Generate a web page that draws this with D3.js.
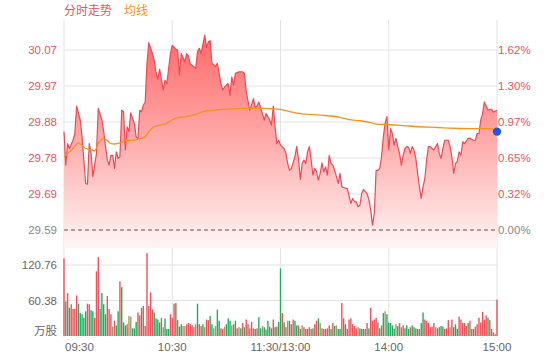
<!DOCTYPE html>
<html><head><meta charset="utf-8">
<script src="https://cdn.jsdelivr.net/npm/d3@7"></script>
<style>html,body{margin:0;padding:0;background:#fff;}svg{display:block;}</style>
</head><body><svg id="c" width="560" height="360"></svg>
<script>
const prevClose = 29.59;
const priceTickLabels = ["29.59","29.69","29.78","29.88","29.97","30.07"];
const pctTickLabels = ["0.00%","0.32%","0.65%","0.97%","1.30%","1.62%"];
const pctTickValues = [0, 0.324, 0.648, 0.972, 1.296, 1.62];
const volTickValues = [60.38, 120.76];
const volTickLabels = ["60.38", "120.76"];
const timeLabels = ["09:30","10:30","11:30/13:00","14:00","15:00"];
const timeMinutes = [0, 60, 120, 180, 240];

// price vertices [minute, price]
const priceMinutes = [0,1,2,3,5,6,7,9,10,11,12,13,14,15,16,18,19,21,22,24,25,26,27,28,29,30,31,32,33,34,35,36,37,38,39,40,41,42,43,44,45,46,47,49,50,51,52,53,55,56,57,59,60,62,63,64,65,67,68,69,70,71,73,74,75,76,78,79,80,81,82,84,85,86,87,88,89,91,92,93,94,95,97,99,100,101,103,105,106,107,108,110,111,112,113,114,115,116,117,118,119,120,122,123,124,125,126,128,129,130,131,132,133,134,135,136,137,138,139,140,141,142,143,144,145,146,147,148,149,150,151,152,153,154,156,157,159,160,161,162,163,164,165,166,168,169,170,171,172,173,174,175,176,177,178,179,180,181,182,183,184,185,186,187,188,189,190,191,192,193,194,195,196,197,198,199,200,201,202,203,204,205,207,208,209,210,211,213,214,215,216,217,218,219,220,221,222,224,225,227,228,229,230,231,232,233,235,236,237,238,240];
const priceValues = [29.852,29.763,29.820,29.807,29.829,29.847,29.920,29.883,29.838,29.776,29.714,29.712,29.820,29.794,29.732,29.794,29.914,29.883,29.852,29.776,29.763,29.789,29.789,29.754,29.798,29.781,29.785,29.909,29.905,29.803,29.865,29.852,29.902,29.887,29.874,29.838,29.834,29.909,29.905,29.923,29.931,30.034,30.089,30.060,30.042,30.011,29.991,30.018,29.963,29.989,29.980,30.060,30.082,30.071,30.069,30.003,30.060,30.038,30.060,30.053,30.032,30.029,30.020,30.065,30.074,30.060,30.109,30.076,30.091,30.094,30.034,30.025,30.034,30.007,29.980,29.963,29.971,29.980,29.949,29.998,29.976,30.007,30.011,30.011,30.007,29.958,29.909,29.940,29.916,29.920,29.931,29.900,29.883,29.900,29.892,29.883,29.869,29.920,29.865,29.820,29.829,29.816,29.807,29.794,29.767,29.749,29.754,29.785,29.813,29.776,29.725,29.767,29.776,29.767,29.798,29.812,29.776,29.736,29.754,29.745,29.723,29.741,29.769,29.745,29.758,29.736,29.789,29.767,29.763,29.749,29.732,29.714,29.741,29.705,29.701,29.701,29.661,29.674,29.665,29.665,29.652,29.656,29.687,29.698,29.687,29.670,29.643,29.603,29.634,29.749,29.749,29.754,29.785,29.838,29.874,29.892,29.803,29.860,29.847,29.816,29.834,29.812,29.794,29.763,29.789,29.807,29.812,29.810,29.794,29.812,29.803,29.781,29.741,29.705,29.674,29.705,29.727,29.776,29.812,29.812,29.807,29.803,29.820,29.794,29.781,29.807,29.829,29.829,29.812,29.785,29.741,29.767,29.772,29.798,29.789,29.825,29.820,29.834,29.834,29.829,29.829,29.847,29.847,29.883,29.900,29.931,29.909,29.911,29.911,29.904,29.909];

// average line vertices
const avgMinutes = [0,2,5,8,10,12,14,17,19,22,24,26,28,31,34,38,42,45,47,50,53,57,60,62,68,74,77,83,90,99,109,120,125,131,142,153,158,164,170,173,179,188,197,207,216,225,234,240];
const avgValues = [29.785,29.794,29.807,29.822,29.816,29.807,29.805,29.801,29.820,29.834,29.828,29.820,29.819,29.822,29.828,29.829,29.833,29.838,29.852,29.865,29.869,29.874,29.883,29.887,29.892,29.899,29.905,29.909,29.912,29.914,29.914,29.911,29.905,29.900,29.896,29.890,29.884,29.881,29.876,29.872,29.871,29.868,29.865,29.863,29.861,29.860,29.860,29.859];
const lastMarkerPrice = 29.852;

// volume per minute (万股), and bar direction r=up g=down f=flat
const volumes = [132,59,73,48,54,46,46,69,55,39,37,31,42,55,54,44,42,31,110,134,46,73,54,37,68,46,37,16,26,18,42,93,83,23,18,20,34,33,13,13,24,40,35,48,51,17,141,51,74,45,40,30,28,23,31,15,30,12,12,37,31,55,56,27,16,20,17,17,20,22,20,18,15,20,55,20,17,20,15,28,27,34,20,13,17,45,26,13,12,16,20,30,26,18,20,26,13,15,13,22,15,28,20,13,24,13,12,13,32,13,17,15,11,26,16,13,28,15,16,24,
115,39,23,15,26,26,20,28,26,18,18,12,18,15,12,12,15,12,13,20,26,30,22,13,12,12,13,18,12,22,17,18,12,12,56,30,20,12,28,30,20,17,13,15,13,12,12,12,22,13,48,26,28,31,23,13,18,39,42,37,23,22,18,12,20,17,22,15,18,13,18,12,15,18,15,13,12,12,22,40,28,26,22,15,16,22,15,13,15,17,16,12,13,27,15,28,15,20,12,33,28,22,22,17,22,26,12,12,16,20,31,23,41,28,35,31,27,12,6,3,62];
const volDirs = "rgrgrrrrgggggrrggrrrggggrrrfrggrgggrffgggrrgrrrrrrggggrfgggrrrgrggffrrrrrfgrrgfrrggffggrrfgggfrgrfgrgrrrrrgrggfgggrgrgr" +
                "ggrgrfgrrggrgfrrgrrgrrgfrrgrrgrgfggrrgrrrrrrfgggrrgrrrrgrrgfgggggfgrrrgggrggrgrggrrrrrrfgrggrrrfrgggrrrrrgrrgrrrrrrrgrrrrrrg";

const W = 560, H = 360;
const x0 = 64, x1 = 497;
const pTop = 20, pBottom = 248, zeroY = 230, topGridY = 50;
const vBottom = 336;

const svg = d3.select("#c");
const x = d3.scaleLinear().domain([0, 240]).range([x0, x1]);
const yP = d3.scaleLinear().domain([prevClose, prevClose * 1.0162]).range([zeroY, topGridY]);
const yPct = d3.scaleLinear().domain([0, 1.62]).range([zeroY, topGridY]);
const yV = d3.scaleLinear().domain([0, 120.76]).range([vBottom, 265]);

const font = "Arial, 'Liberation Sans', 'Noto Sans CJK SC', sans-serif";
const red = "#ee4a55", labelRed = "#e8545f", grey = "#888", orange = "#f5921e";

// vertical grid lines
svg.append("g").selectAll("line").data(timeMinutes).join("line")
  .attr("x1", d => x(d)).attr("x2", d => x(d))
  .attr("y1", pTop).attr("y2", vBottom + 1)
  .attr("stroke", "#e3e3e3").attr("stroke-width", 1);

// horizontal price grid
svg.append("g").selectAll("line").data(pctTickValues.slice(1)).join("line")
  .attr("x1", x0).attr("x2", x1)
  .attr("y1", d => yPct(d)).attr("y2", d => yPct(d))
  .attr("stroke", "#e3e3e3").attr("stroke-width", 1);

// volume grid
svg.append("g").selectAll("line").data(volTickValues).join("line")
  .attr("x1", x0).attr("x2", x1)
  .attr("y1", d => yV(d)).attr("y2", d => yV(d))
  .attr("stroke", "#e3e3e3").attr("stroke-width", 1);

// gradient
const defs = svg.append("defs");
const grad = defs.append("linearGradient").attr("id", "g1")
  .attr("gradientUnits", "userSpaceOnUse")
  .attr("x1", 0).attr("y1", pTop).attr("x2", 0).attr("y2", pBottom);
grad.append("stop").attr("offset", 0).attr("stop-color", "#ff6060");
grad.append("stop").attr("offset", 0.5).attr("stop-color", "#ffa6a6");
grad.append("stop").attr("offset", 1).attr("stop-color", "#fff5f5");

const pts = priceMinutes.map((m, i) => [m, priceValues[i]]);
const area = d3.area().x(d => x(d[0])).y0(pBottom).y1(d => yP(d[1]));
svg.append("path").datum(pts).attr("d", area).attr("fill", "url(#g1)");

// zero dashed line
svg.append("line").attr("x1", x0).attr("x2", x1)
  .attr("y1", yPct(0)).attr("y2", yPct(0))
  .attr("stroke", "#555").attr("stroke-width", 1).attr("stroke-dasharray", "4,3");

const line = d3.line().x(d => x(d[0])).y(d => yP(d[1]));
svg.append("path").datum(pts).attr("d", line)
  .attr("fill", "none").attr("stroke", red).attr("stroke-width", 1.2).attr("stroke-linejoin", "round");

const avgPts = avgMinutes.map((m, i) => [m, avgValues[i]]);
svg.append("path").datum(avgPts).attr("d", d3.line().x(d => x(d[0])).y(d => yP(d[1])).curve(d3.curveMonotoneX))
  .attr("fill", "none").attr("stroke", orange).attr("stroke-width", 1.3);

svg.append("circle").attr("cx", x(240)).attr("cy", yP(lastMarkerPrice)).attr("r", 4.2)
  .attr("fill", "#1f57e0");

// volume bars
const colorOf = c => c === "r" ? "#f2515b" : (c === "g" ? "#1fae5f" : "#ab9668");
svg.append("g").selectAll("rect").data(volumes).join("rect")
  .attr("x", (d, i) => x(i) - 0.7).attr("width", 1.4)
  .attr("y", d => yV(d)).attr("height", d => vBottom - yV(d))
  .attr("fill", (d, i) => colorOf(volDirs[i]));

// left price labels
svg.append("g").selectAll("text").data(pctTickValues).join("text")
  .attr("x", 57).attr("y", d => yPct(d)).attr("dy", "0.35em")
  .attr("text-anchor", "end").attr("font-family", font).attr("font-size", 11.5)
  .attr("fill", (d, i) => i === 0 ? grey : labelRed)
  .text((d, i) => priceTickLabels[i]);

// right pct labels
svg.append("g").selectAll("text").data(pctTickValues).join("text")
  .attr("x", 498).attr("y", d => yPct(d)).attr("dy", "0.35em")
  .attr("text-anchor", "start").attr("font-family", font).attr("font-size", 11.5)
  .attr("fill", (d, i) => i === 0 ? grey : labelRed)
  .text((d, i) => pctTickLabels[i]);

// volume labels
svg.append("g").selectAll("text").data(volTickValues).join("text")
  .attr("x", 57).attr("y", d => yV(d)).attr("dy", "0.35em")
  .attr("text-anchor", "end").attr("font-family", font).attr("font-size", 11.5)
  .attr("fill", "#666").text((d, i) => volTickLabels[i]);
svg.append("text").attr("x", 57).attr("y", 331).attr("dy", "0.35em")
  .attr("text-anchor", "end").attr("font-family", font).attr("font-size", 11.5)
  .attr("fill", "#666").text("万股");

// time labels
svg.append("g").selectAll("text").data(timeMinutes).join("text")
  .attr("x", (d, i) => i === 0 ? x0 + 1 : x(d)).attr("y", 351)
  .attr("text-anchor", (d, i) => i === 0 ? "start" : "middle")
  .attr("font-family", font).attr("font-size", 11.5).attr("fill", "#666")
  .text((d, i) => timeLabels[i]);

// legend
svg.append("text").attr("x", 64).attr("y", 15).attr("font-family", font).attr("font-size", 12)
  .attr("fill", labelRed).text("分时走势");
svg.append("text").attr("x", 124).attr("y", 15).attr("font-family", font).attr("font-size", 12)
  .attr("fill", orange).text("均线");
</script></body></html>
